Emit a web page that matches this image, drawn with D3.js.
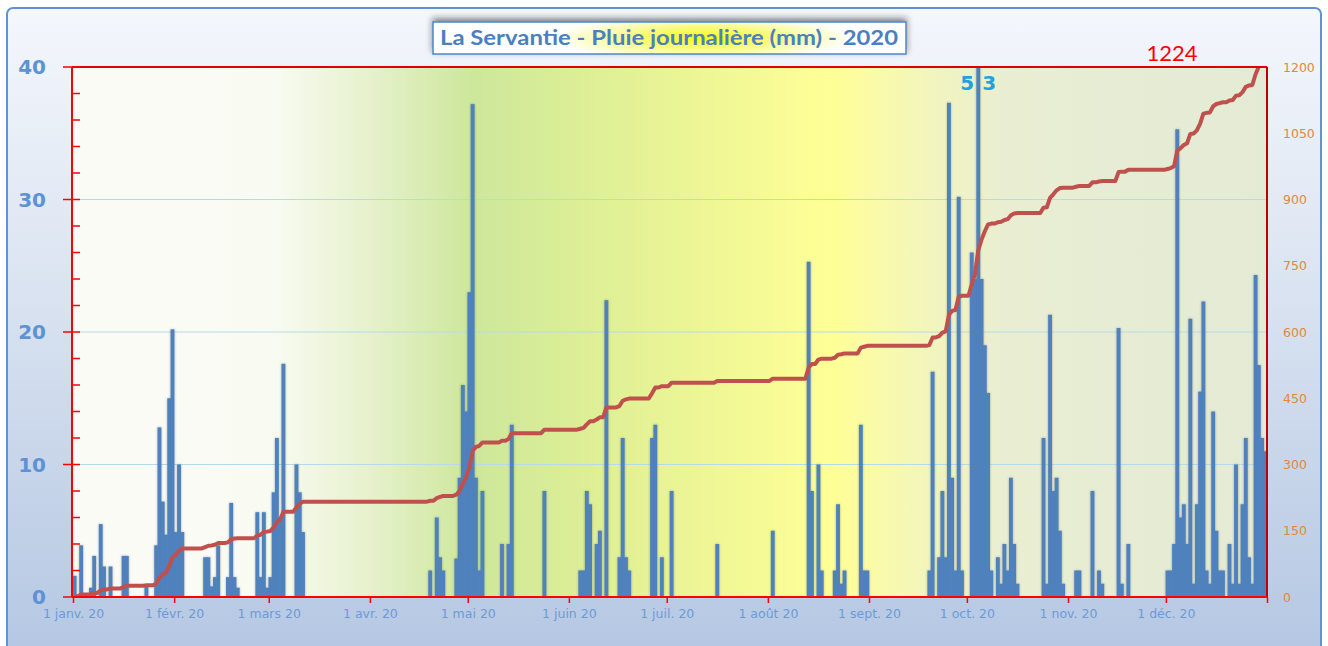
<!DOCTYPE html>
<html>
<head>
<meta charset="utf-8">
<script src="https://cdn.jsdelivr.net/npm/d3@7"></script>
<style>
  body { margin: 0; background: #fff; }
  svg { display: block; }
</style>
</head>
<body>
<svg width="1328" height="646"></svg>
<script>
// daily rain (mm), one array per month
var jan = [1.6,0,3.9,0,0,0.7,3.1,0,5.5,2.3, 0,2.3,0,0,0,3.1,3.1,0,0,0, 0,0,0.8,0,0,3.9,12.8,7.2,4.7,15, 20.2]
var feb = [4.9,10,4.9,0,0,0,0,0,0,3.0, 3.0,0.8,1.5,3.9,0,0,1.5,7.1,1.5,0.7, 0,0,0,0,0,6.4,1.5,6.4,0.7]
var mar = [1.5,7.9,12,6,17.6,0,0,0,10,7.9, 4.9,0,0,0,0,0,0,0,0,0, 0,0,0,0,0,0,0,0,0,0, 0]
var apr = [0,0,0,0,0,0,0,0,0,0, 0,0,0,0,0,0,0,0,2,0, 6,3,2,0,0,0,2.9,9,16,14]
var may = [23,37.2,9,2,8,0,0,0,0,0, 4,0,4,13,0,0,0,0,0,0, 0,0,0,8,0,0,0,0,0,0, 0]
var jun = [0,0,0,2,2,8,7,0,4,5, 0,22.4,0,0,0,3,12,3,2,0, 0,0,0,0,0,12,13,0,3,0]
var jul = [0,8,0,0,0,0,0,0,0,0, 0,0,0,0,0,4,0,0,0,0, 0,0,0,0,0,0,0,0,0,0, 0]
var aug = [0,5,0,0,0,0,0,0,0,0, 0,0,25.3,8,0,10,2,0,0,0, 2,7,1,2,0,0,0,0,13,2, 2]
var sep = [0,0,0,0,0,0,0,0,0,0, 0,0,0,0,0,0,0,0,2,17, 0,3,8,3,37.3,9,2,30.2,2,0]
var oct = [0,26,24,53,24,19,15.4,2,0,3, 1,4,2,9,4,1,0,0,0,0, 0,0,0,12,1,21.3,8,9,5,1, 0]
var nov = [0,0,2,2,0,0,0,8,0,2, 1,0,0,0,0,20.3,1,0,4,0, 0,0,0,0,0,0,0,0,0,0]
var dec = [2,2,4,35.3,6,7,4,21,1,7, 15.5,22.3,2,1,14,5,2,2,0,4, 1,10,1,7,12,3,1,24.3,17.5,12, 11]

var monthLabels = ['1 janv. 20','1 févr. 20','1 mars 20','1 avr. 20','1 mai 20','1 juin 20',
                   '1 juil. 20','1 août 20','1 sept. 20','1 oct. 20','1 nov. 20','1 déc. 20']
var leftTicks = [0,10,20,30,40]
var rightTicks = [0,150,300,450,600,750,900,1050,1200]
var title = 'La Servantie - Pluie journalière (mm) - 2020'

var daily = [].concat(jan,feb,mar,apr,may,jun,jul,aug,sep,oct,nov,dec)
var start = new Date(Date.UTC(2020,0,1))
var cum = Array.from(d3.cumsum(daily))
var days = daily.map(function(v,i) {
  return {date: d3.utcDay.offset(start, i), v: v, c: cum[i]}
})
var total = Math.round(d3.sum(daily))

var svg = d3.select('svg')
var plot = {left: 72, right: 1267, top: 67, bottom: 597}

var x = d3.scaleUtc()
    .domain([start, d3.utcDay.offset(start, daily.length)])
    .range([73, plot.right])
var y = d3.scaleLinear().domain([0,40]).range([plot.bottom, plot.top]).clamp(true)
var yR = d3.scaleLinear().domain([0,1200]).range([plot.bottom, plot.top])

function dayW(d) { return x(d3.utcDay.offset(d.date,1)) - x(d.date) }

var defs = svg.append('defs')

var bg = defs.append('linearGradient').attr('id','bg').attr('x1',0).attr('y1',0).attr('x2',0).attr('y2',1)
bg.append('stop').attr('offset',0).attr('stop-color','#f4f7fc')
bg.append('stop').attr('offset',0.35).attr('stop-color','#dfe7f3')
bg.append('stop').attr('offset',1).attr('stop-color','#b3c6e2')

var pg = defs.append('linearGradient').attr('id','plotbg')
var pstops = [[0,'#fbfbf6'],[0.165,'#f9fbf3'],[0.25,'#e6f1cc'],[0.335,'#cde79b'],[0.42,'#dbee96'],
              [0.53,'#eef695'],[0.635,'#ffff96'],[0.7,'#f5f7b6'],[0.78,'#e9eed3'],[1,'#e4ebd5']]
pstops.forEach(function(s) { pg.append('stop').attr('offset',s[0]).attr('stop-color',s[1]) })

var tg = defs.append('radialGradient').attr('id','titlebg').attr('cx',0.57).attr('cy',0.5).attr('r',0.32)
  .attr('gradientTransform','translate(0.57,0.5) scale(1,2.2) translate(-0.57,-0.5)')
tg.append('stop').attr('offset',0).attr('stop-color','#ffff00')
tg.append('stop').attr('offset',0.45).attr('stop-color','#f8fa7a')
tg.append('stop').attr('offset',1).attr('stop-color','#ffffff')

var sh = defs.append('filter').attr('id','barshadow').attr('x','-20%').attr('y','-5%').attr('width','140%').attr('height','110%')
sh.append('feDropShadow').attr('dx',0).attr('dy',0).attr('stdDeviation',1.2)
  .attr('flood-color','#3a3a3a').attr('flood-opacity',0.4)

var tsh = defs.append('filter').attr('id','titleshadow').attr('x','-10%').attr('y','-60%').attr('width','120%').attr('height','200%')
tsh.append('feDropShadow').attr('dx',0).attr('dy',-3).attr('stdDeviation',3)
  .attr('flood-color','#222').attr('flood-opacity',0.55)

defs.append('clipPath').attr('id','clip').append('rect')
  .attr('x',plot.left).attr('y',plot.top)
  .attr('width',plot.right-plot.left).attr('height',plot.bottom-plot.top)

// outer frame
svg.append('rect').attr('x',7).attr('y',8).attr('width',1314).attr('height',660).attr('rx',6)
  .attr('fill','url(#bg)').attr('stroke','#5b93d6').attr('stroke-width',2)

// plot area
svg.append('rect').attr('x',plot.left).attr('y',plot.top)
  .attr('width',plot.right-plot.left).attr('height',plot.bottom-plot.top)
  .attr('fill','url(#plotbg)')

// grid
svg.append('g').selectAll('line').data([10,20,30]).enter().append('line')
  .attr('x1',plot.left+8).attr('x2',plot.right)
  .attr('y1',function(d){ return y(d) }).attr('y2',function(d){ return y(d) })
  .attr('stroke','#b3dbe9').attr('stroke-width',1.2)

// bars (a hair wider so neighbours join without seams)
svg.append('g').attr('clip-path','url(#clip)').attr('filter','url(#barshadow)')
  .selectAll('rect').data(days.filter(function(d){ return d.v > 0 })).enter().append('rect')
  .attr('x',function(d){ return x(d.date) - 0.3 })
  .attr('width',function(d){ return dayW(d) + 0.6 })
  .attr('y',function(d){ return y(d.v) })
  .attr('height',function(d){ return y(0) - y(d.v) })
  .attr('fill','#4f81bd')

// cumulative line
var line = d3.line()
  .x(function(d){ return x(d.date) + dayW(d)/2 })
  .y(function(d){ return yR(d.c) })
svg.append('path').datum(days).attr('clip-path','url(#clip)')
  .attr('d',line).attr('fill','none').attr('stroke','#c0504d')
  .attr('stroke-width',4).attr('stroke-linejoin','round')

// frame lines
svg.append('line').attr('x1',plot.left).attr('x2',plot.right).attr('y1',plot.top).attr('y2',plot.top)
  .attr('stroke','#e00000').attr('stroke-width',2)
svg.append('line').attr('x1',plot.right).attr('x2',plot.right).attr('y1',plot.top).attr('y2',plot.bottom)
  .attr('stroke','#c00000').attr('stroke-width',2)
svg.append('line').attr('x1',plot.left).attr('x2',plot.right).attr('y1',plot.bottom).attr('y2',plot.bottom)
  .attr('stroke','#ff0000').attr('stroke-width',2)
svg.append('line').attr('x1',plot.left).attr('x2',plot.left).attr('y1',plot.top).attr('y2',plot.bottom)
  .attr('stroke','#ff0000').attr('stroke-width',2)

// left axis ticks
var minor = d3.range(0,41,2)
svg.append('g').selectAll('line').data(minor).enter().append('line')
  .attr('x1',function(d){ return d % 10 == 0 ? 63 : plot.left })
  .attr('x2',80)
  .attr('y1',function(d){ return y(d) }).attr('y2',function(d){ return y(d) })
  .attr('stroke','#ff0000').attr('stroke-width',1.5)

svg.append('g').selectAll('text').data(leftTicks).enter().append('text')
  .attr('x',46).attr('y',function(d){ return y(d) }).attr('dy','0.36em')
  .attr('text-anchor','end')
  .style('font','bold 20px "DejaVu Sans", sans-serif').style('fill','#5d92d6')
  .text(function(d){ return d })

// right axis labels
svg.append('g').selectAll('text').data(rightTicks).enter().append('text')
  .attr('x',1283).attr('y',function(d){ return yR(d) }).attr('dy','0.36em')
  .style('font','12.5px "DejaVu Sans", sans-serif').style('fill','#e2873c')
  .text(function(d){ return d })

// bottom axis
var monthStarts = d3.utcMonth.range(start, d3.utcDay.offset(start, daily.length))
var xAxis = svg.append('g').attr('transform','translate(0,' + plot.bottom + ')')
  .call(d3.axisBottom(x).tickValues(monthStarts.concat([d3.utcDay.offset(start, daily.length)]))
        .tickSize(6).tickPadding(6)
        .tickFormat(function(d,i){ return monthLabels[i] || '' }))
xAxis.select('.domain').remove()
xAxis.selectAll('line').attr('stroke','#ff0000').attr('stroke-width',1.5)
xAxis.selectAll('text').style('font','12.5px "DejaVu Sans", sans-serif').style('fill','#6d9ad6')

// title
var tb = svg.append('g')
tb.append('rect').attr('x',433).attr('y',22).attr('width',473).attr('height',32)
  .attr('fill','url(#titlebg)').attr('stroke','#4f86c6').attr('stroke-width',1.5)
  .attr('filter','url(#titleshadow)')
tb.append('text').attr('x',669).attr('y',38).attr('dy','0.35em').attr('text-anchor','middle')
  .attr('textLength',458).attr('lengthAdjust','spacingAndGlyphs')
  .style('font','bold 20px Lato, "Open Sans", sans-serif').style('fill','#4a7fc2')
  .text(title)

// total label
svg.append('text').attr('x',1172).attr('y',yR(total)).attr('dy','0.2em').attr('text-anchor','middle')
  .style('font','22px Lato, "Noto Sans", sans-serif').style('fill','#ff0000')
  .text(total)

// labels for clipped bars
svg.append('g').selectAll('text').data(days.filter(function(d){ return d.v > 40 })).enter().append('text')
  .attr('x',function(d){ return x(d.date) + dayW(d)/2 + 4 })
  .attr('y',plot.top + 16).attr('dy','0.35em').attr('text-anchor','middle')
  .style('font','bold 20px "DejaVu Sans", sans-serif').style('fill','#1fa2e2')
  .style('letter-spacing','8px')
  .text(function(d){ return d.v })
</script>
</body>
</html>
